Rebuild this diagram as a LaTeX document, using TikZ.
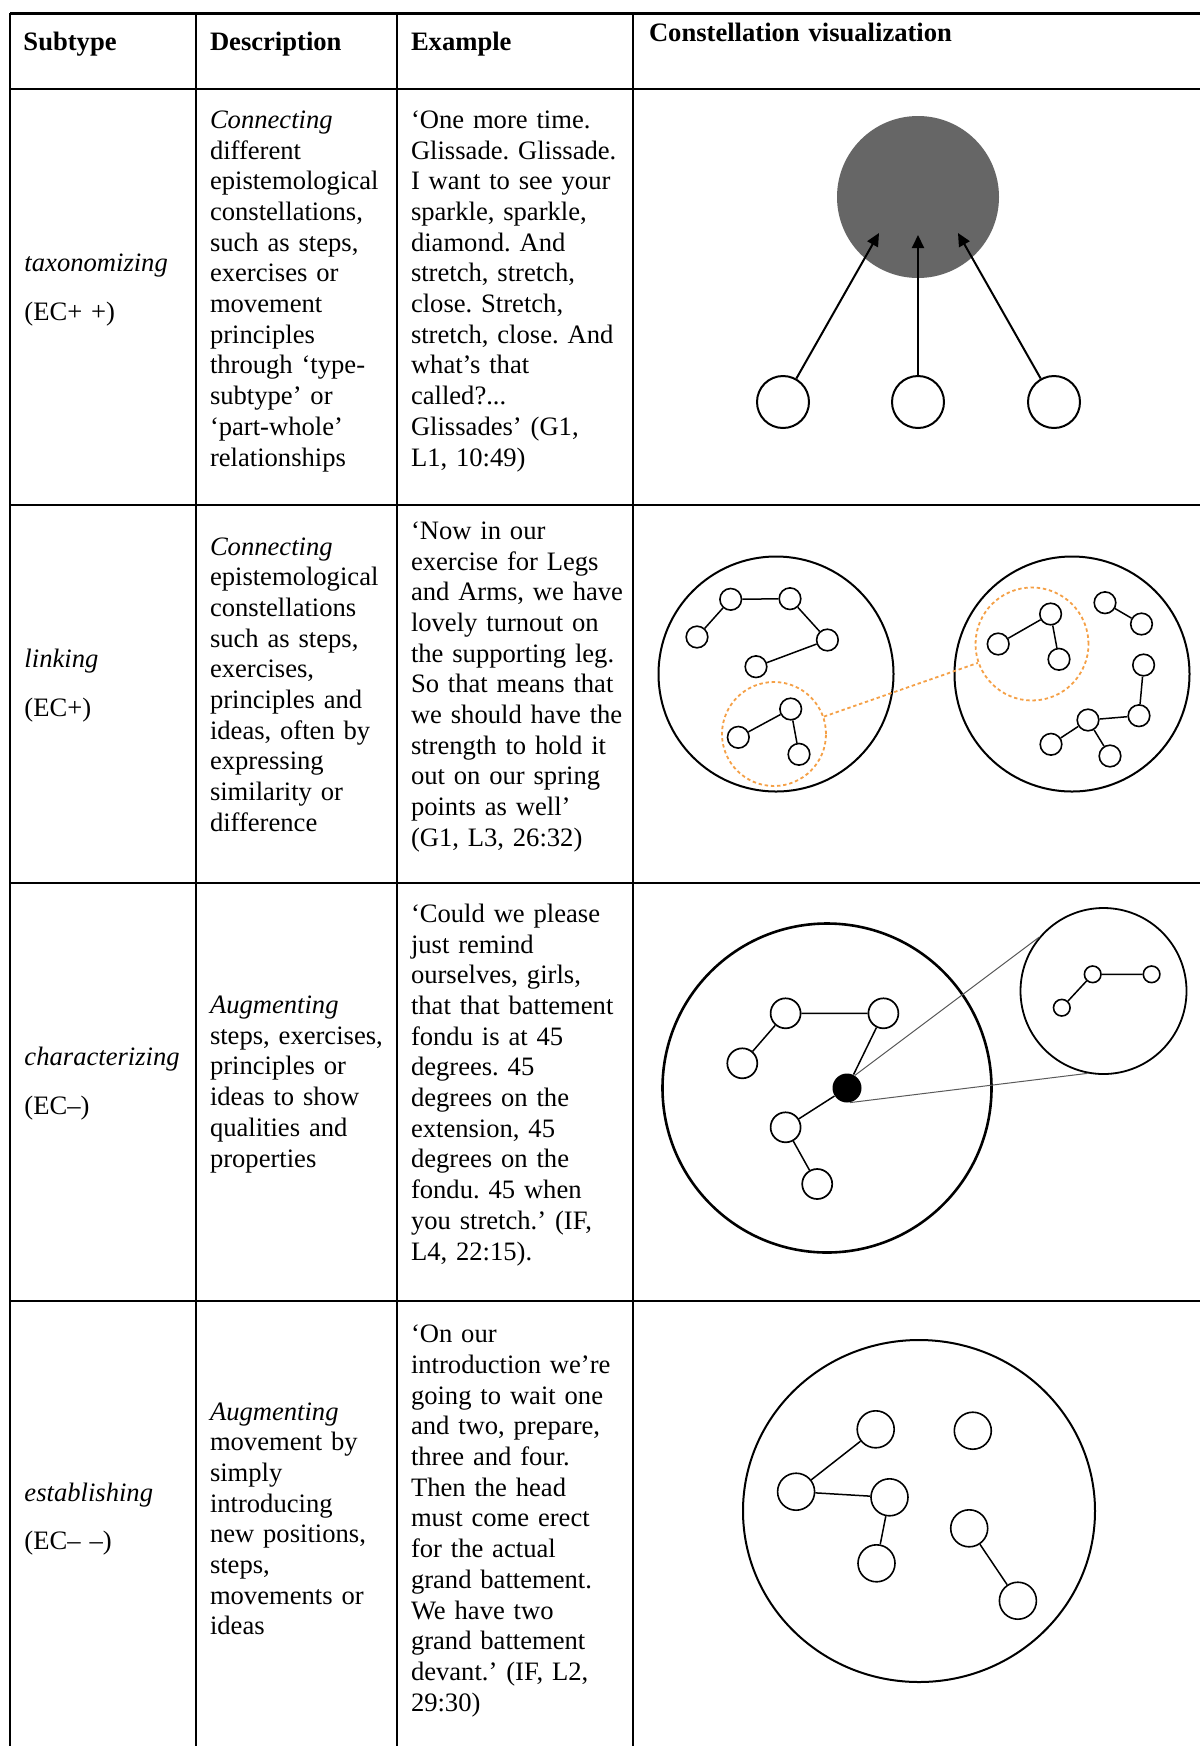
\documentclass[tikz,border=0pt]{standalone}
\usepackage{fontspec}
\setmainfont{Liberation Serif}
\usetikzlibrary{arrows.meta,shapes.geometric}

\definecolor{hubgray}{RGB}{102,102,102}
\definecolor{ringorange}{RGB}{245,160,70}
\definecolor{lensgray}{RGB}{90,90,90}

\newcommand{\txtfont}{\fontsize{13.3pt}{15.35pt}\selectfont\frenchspacing}

\tikzset{
  rule/.style={line width=1.1pt},
  celltext/.style={anchor=base west, inner sep=0pt, outer sep=0pt,
    text width=130pt, align=left, font=\txtfont},
  headtext/.style={celltext, text width=260pt, font=\txtfont\bfseries},
  leaf/.style={circle, draw, fill=white, inner sep=0pt, line width=1pt},
  cnode/.style={circle, draw, fill=white, inner sep=0pt, line width=0.8pt},
  shell/.style={circle, draw, inner sep=0pt, line width=1pt},
  link/.style={line width=0.75pt},
  arr/.style={line width=1pt, -{Triangle[length=6.5pt,width=6pt]}},
  orangering/.style={circle, draw=ringorange, inner sep=0pt,
    line width=0.9pt, dash pattern=on 1.7pt off 1.4pt},
  orangedash/.style={draw=ringorange, line width=0.9pt,
    dash pattern=on 1.7pt off 1.4pt},
  lens/.style={draw=lensgray, line width=0.5pt}
}

\begin{document}
\begin{tikzpicture}[x=0.5pt, y=-0.5pt]
\useasboundingbox (0,0) rectangle (1200,1746);
\fill[white] (0,0) rectangle (1200,1746);

% table rules
\draw[rule] (10,13.4) -- (1200,13.4);
\draw[rule] (10,89) -- (1200,89);
\draw[rule] (10,505) -- (1200,505);
\draw[rule] (10,883) -- (1200,883);
\draw[rule] (10,1301) -- (1200,1301);
\foreach \cx in {10,196,397,633} {
  \draw[rule] (\cx,12.85) -- (\cx,1746);
}

% header row
\node[headtext] (hSub) at (23.5,50) {Subtype};
\node[headtext] (hDesc) at (210,50) {Description};
\node[headtext] (hEx) at (411,50) {Example};
\node[headtext] (hVis) at (649,41.5) {Constellation visualization};

% row 1: taxonomizing
\node[celltext] (sub1) at (24.5,271) {\textit{taxonomizing}};
\node[celltext] (ec1) at (24.5,320) {(EC+ +)};
\node[celltext] (desc1) at (210,128.3) {\textit{Connecting}\\ different\\ epistemological\\ constellations,\\ such as steps,\\ exercises or\\ movement\\ principles\\ through ‘type-\\ subtype’ or\\ ‘part-whole’\\ relationships};
\node[celltext] (ex1) at (411,128.3) {‘One more time.\\ Glissade. Glissade.\\ I want to see your\\ sparkle, sparkle,\\ diamond. And\\ stretch, stretch,\\ close. Stretch,\\ stretch, close. And\\ what’s that\\ called?...\\ Glissades’ (G1,\\ L1, 10:49)};

\node[circle, fill=hubgray, inner sep=0pt, minimum size=81pt] (hub) at (918,197) {};
\node[leaf, minimum size=26pt] (s1) at (783,402) {};
\node[leaf, minimum size=26pt] (s2) at (918,402) {};
\node[leaf, minimum size=26pt] (s3) at (1054,402) {};
\coordinate (t1) at (879,233);
\coordinate (t2) at (918,235);
\coordinate (t3) at (958,233);
\draw[arr] (s1) -- (t1);
\draw[arr] (s2) -- (t2);
\draw[arr] (s3) -- (t3);

% row 2: linking
\node[celltext] (sub2) at (24.5,667) {\textit{linking}};
\node[celltext] (ec2) at (24.5,716.5) {(EC+)};
\node[celltext] (desc2) at (210,555) {\textit{Connecting}\\ epistemological\\ constellations\\ such as steps,\\ exercises,\\ principles and\\ ideas, often by\\ expressing\\ similarity or\\ difference};
\node[celltext] (ex2) at (411,539.3) {‘Now in our\\ exercise for Legs\\ and Arms, we have\\ lovely turnout on\\ the supporting leg.\\ So that means that\\ we should have the\\ strength to hold it\\ out on our spring\\ points as well’\\ (G1, L3, 26:32)};

\node[shell, minimum size=117.5pt] (left) at (776,674) {};
\node[shell, minimum size=117.5pt] (right) at (1072,674) {};

\node[cnode, minimum size=10.8pt] (a1) at (697,637) {};
\node[cnode, minimum size=10.8pt] (a2) at (730.7,599.3) {};
\node[cnode, minimum size=10.8pt] (a3) at (790,598.7) {};
\node[cnode, minimum size=10.8pt] (a4) at (827.4,640) {};
\node[cnode, minimum size=10.8pt] (a5) at (756,666.7) {};
\draw[link] (a1) -- (a2) -- (a3) -- (a4) -- (a5);

\node[cnode, minimum size=10.8pt] (b1) at (790.7,709) {};
\node[cnode, minimum size=10.8pt] (b2) at (738.3,737.3) {};
\node[cnode, minimum size=10.8pt] (b3) at (799,754.3) {};
\draw[link] (b1) -- (b2);
\draw[link] (b1) -- (b3);

\node[cnode, minimum size=10.8pt] (c1) at (1050.6,614) {};
\node[cnode, minimum size=10.8pt] (c2) at (998.2,644) {};
\node[cnode, minimum size=10.8pt] (c3) at (1059,659.3) {};
\draw[link] (c1) -- (c2);
\draw[link] (c1) -- (c3);

\node[cnode, minimum size=10.8pt] (d1) at (1105,602.7) {};
\node[cnode, minimum size=10.8pt] (d2) at (1141.5,624) {};
\draw[link] (d1) -- (d2);

\node[cnode, minimum size=10.8pt] (e1) at (1143.6,665) {};
\node[cnode, minimum size=10.8pt] (e2) at (1139,715.7) {};
\node[cnode, minimum size=10.8pt] (e3) at (1088,720) {};
\node[cnode, minimum size=10.8pt] (e4) at (1051,744.3) {};
\node[cnode, minimum size=10.8pt] (e5) at (1110,756) {};
\draw[link] (e1) -- (e2) -- (e3) -- (e4);
\draw[link] (e3) -- (e5);

\node[orangering, minimum size=52pt] (g1) at (774,734) {};
\node[orangering, minimum size=56.5pt] (g2) at (1032,644) {};
\draw[orangedash] (g1) -- (g2);

% row 3: characterizing
\node[celltext] (sub3) at (24.5,1065) {\textit{characterizing}};
\node[celltext] (ec3) at (24.5,1114) {(EC–)};
\node[celltext] (desc3) at (210,1013.5) {\textit{Augmenting}\\ steps, exercises,\\ principles or\\ ideas to show\\ qualities and\\ properties};
\node[celltext] (ex3) at (411,922.3) {‘Could we please\\ just remind\\ ourselves, girls,\\ that that battement\\ fondu is at 45\\ degrees. 45\\ degrees on the\\ extension, 45\\ degrees on the\\ fondu. 45 when\\ you stretch.’ (IF,\\ L4, 22:15).};

\node[shell, line width=1.3pt, minimum size=164.5pt] (whole) at (827,1088) {};
\node[shell, line width=0.9pt, minimum size=83pt] (mag) at (1103.5,991) {};
\node[circle, fill=black, inner sep=0pt, minimum size=14.5pt] (dot) at (847,1088) {};

\node[cnode, line width=0.85pt, minimum size=15pt] (n1) at (785.6,1013.3) {};
\node[cnode, line width=0.85pt, minimum size=15pt] (n2) at (883.4,1013.3) {};
\node[cnode, line width=0.85pt, minimum size=15pt] (n3) at (742.3,1063.3) {};
\node[cnode, line width=0.85pt, minimum size=15pt] (n4) at (785.6,1127.3) {};
\node[cnode, line width=0.85pt, minimum size=15pt] (n5) at (817.2,1184) {};
\draw[link] (n3) -- (n1) -- (n2) -- (dot) -- (n4) -- (n5);

\draw[lens] (dot.58) -- (mag.140);
\draw[lens] (dot.-78) -- (mag.-101);

\node[cnode, minimum size=8.3pt] (m1) at (1092.7,974.3) {};
\node[cnode, minimum size=8.3pt] (m2) at (1151.6,974.3) {};
\node[cnode, minimum size=8.3pt] (m3) at (1061.8,1007.7) {};
\draw[link] (m3) -- (m1) -- (m2);

% row 4: establishing
\node[celltext] (sub4) at (24.5,1501) {\textit{establishing}};
\node[celltext] (ec4) at (24.5,1549) {(EC– –)};
\node[celltext] (desc4) at (210,1420) {\textit{Augmenting}\\ movement by\\ simply\\ introducing\\ new positions,\\ steps,\\ movements or\\ ideas};
\node[celltext] (ex4) at (411,1342.7) {‘On our\\ introduction we’re\\ going to wait one\\ and two, prepare,\\ three and four.\\ Then the head\\ must come erect\\ for the actual\\ grand battement.\\ We have two\\ grand battement\\ devant.’ (IF, L2,\\ 29:30)};

\node[ellipse, draw, inner sep=0pt, line width=1pt,
      minimum width=176pt, minimum height=171pt] (field) at (919,1511) {};
\node[cnode, minimum size=18.5pt] (p1) at (875.7,1429.3) {};
\node[cnode, minimum size=18.5pt] (p2) at (972.8,1430.7) {};
\node[cnode, minimum size=18.5pt] (p3) at (796.1,1491.7) {};
\node[cnode, minimum size=18.5pt] (p4) at (889.5,1497.3) {};
\node[cnode, minimum size=18.5pt] (p5) at (876.5,1563.3) {};
\node[cnode, minimum size=18.5pt] (p6) at (969.2,1528.3) {};
\node[cnode, minimum size=18.5pt] (p7) at (1017.9,1600.7) {};
\draw[link] (p1) -- (p3) -- (p4) -- (p5);
\draw[link] (p6) -- (p7);

\end{tikzpicture}
\end{document}
